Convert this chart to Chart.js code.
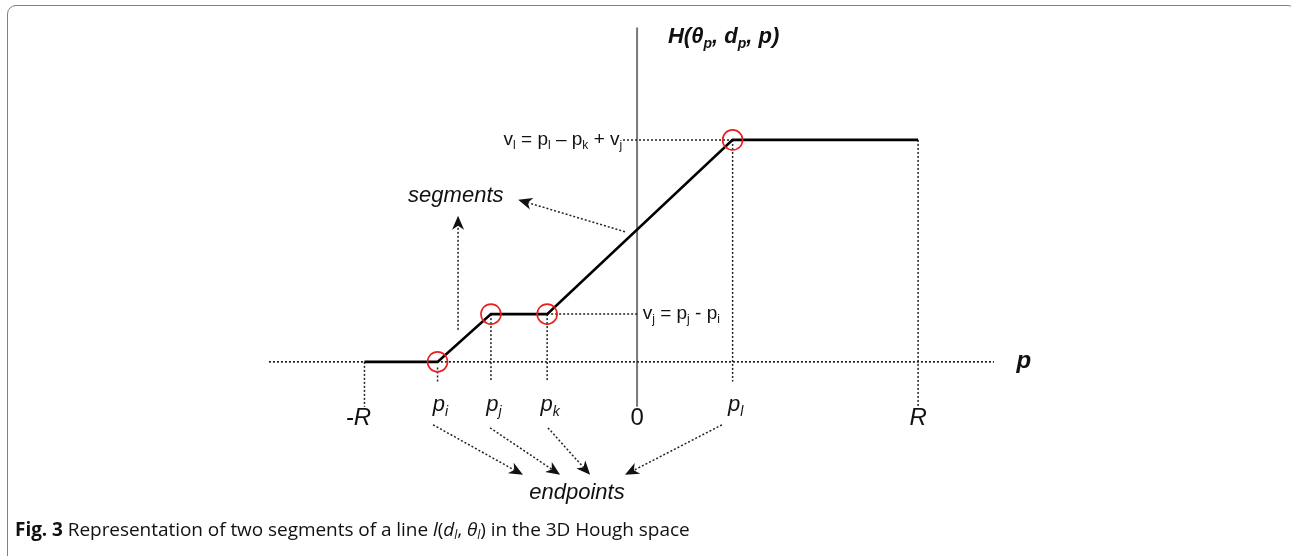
<!DOCTYPE html>
<html>
<head>
<meta charset="utf-8">
<script src="https://cdn.jsdelivr.net/npm/chart.js@4.4.1/dist/chart.umd.min.js"></script>
<style>
    html, body { margin: 0; padding: 0; background: #fff; overflow: hidden; }
    #frame {
        position: absolute; left: 7px; top: 5px; width: 1290px; height: 700px;
        border: 1.5px solid #808080; border-radius: 9px; box-sizing: border-box;
    }
    #wrap { position: absolute; left: 0; top: 0; width: 1291px; height: 556px; }
    #caption {
        position: absolute; left: 15px; top: 516px; font-family: "Open Sans", sans-serif;
        font-size: 19px; line-height: 26px; color: #111; white-space: nowrap; letter-spacing: -0.05px;
    }
    #caption b { font-weight: 700; }
    #caption sub { font-size: 12px; vertical-align: -3px; line-height: 0; }
</style>
</head>
<body>
<div id="frame"></div>
<div id="wrap"><canvas id="hough" width="1291" height="556"></canvas></div>
<div id="caption"><b>Fig. 3</b> Representation of two segments of a line <i>l</i>(<i>d<sub>l</sub></i>, <i>θ<sub>l</sub></i>) in the 3D Hough space</div>

<script>
    "use strict";

    // profile of H along p (arbitrary units, 0 at the vertical axis)
    var pointNames = ["-R", "p_i", "p_j", "p_k", "p_l", "R"];
    var pValues = [-97, -71, -52, -32, 34, 100];
    var hValues = [0, 0, 17, 17, 79, 79];
    var circled = [false, true, true, true, true, false];

    // tick labels under the p axis
    var tickLabels = ["-R", "p_i", "p_j", "p_k", "0", "p_l", "R"];
    var tickValues = [-97, -71, -52, -32, 0, 34, 100];

    var points = pValues.map(function (p, i) { return { x: p, y: hValues[i] }; });

    // split "p_i" into parts for subscript drawing
    function parts(label) {
        var s = label.split("_");
        return s.length > 1 ? [{ t: s[0] }, { t: s[1], sub: true }] : [{ t: label }];
    }

    function drawRich(ctx, list, x, y, align, size, style) {
        var subSize = Math.round(size * 0.62);
        var w = 0;
        list.forEach(function (p) {
            ctx.font = style + " " + (p.sub ? subSize : size) + "px 'Liberation Sans', Arial, sans-serif";
            p.w = ctx.measureText(p.t).width;
            w += p.w;
        });
        var cx = align === "center" ? x - w / 2 : (align === "right" ? x - w : x);
        ctx.textAlign = "left";
        ctx.textBaseline = "middle";
        list.forEach(function (p) {
            ctx.font = style + " " + (p.sub ? subSize : size) + "px 'Liberation Sans', Arial, sans-serif";
            ctx.fillText(p.t, cx, p.sub ? y + size * 0.32 : y);
            cx += p.w;
        });
    }

    var houghPlugin = {
        id: "hough",
        beforeDatasetsDraw: function (chart) {
            var ctx = chart.ctx, xs = chart.scales.x, ys = chart.scales.y;
            var X = function (v) { return xs.getPixelForValue(v); };
            var Y = function (v) { return ys.getPixelForValue(v); };

            ctx.save();
            // vertical H axis
            ctx.strokeStyle = "#777";
            ctx.lineWidth = 2;
            ctx.beginPath();
            ctx.moveTo(X(0), Y(119));
            ctx.lineTo(X(0), Y(-16));
            ctx.stroke();

            // dotted p axis
            ctx.strokeStyle = "#222";
            ctx.setLineDash([2, 2]);
            ctx.lineWidth = 1.7;
            ctx.beginPath();
            ctx.moveTo(X(-131), Y(0));
            ctx.lineTo(X(127), Y(0));
            ctx.stroke();

            // dotted drops from the profile to the tick labels
            ctx.lineWidth = 1.5;
            pValues.forEach(function (p, i) {
                var bottom = (i === 0 || i === pValues.length - 1) ? -16 : -7;
                ctx.beginPath();
                ctx.moveTo(X(p), Y(i === 1 ? -2 : hValues[i]));
                ctx.lineTo(X(p), Y(bottom));
                ctx.stroke();
            });

            // level guides v_j and v_l
            ctx.beginPath();
            ctx.moveTo(X(pValues[3]), Y(hValues[3]));
            ctx.lineTo(X(0), Y(hValues[3]));
            ctx.moveTo(X(-5), Y(hValues[4]));
            ctx.lineTo(X(pValues[4]), Y(hValues[4]));
            ctx.stroke();
            ctx.restore();
        },
        afterDatasetsDraw: function (chart) {
            var ctx = chart.ctx, xs = chart.scales.x, ys = chart.scales.y;
            var X = function (v) { return xs.getPixelForValue(v); };
            var Y = function (v) { return ys.getPixelForValue(v); };

            function arrow(u1, v1, u2, v2) {
                var x1 = X(u1), y1 = Y(v1), x2 = X(u2), y2 = Y(v2);
                var a = Math.atan2(y2 - y1, x2 - x1);
                var c = Math.cos(a), s = Math.sin(a);
                ctx.save();
                ctx.strokeStyle = "#222";
                ctx.fillStyle = "#111";
                ctx.lineWidth = 1.5;
                ctx.setLineDash([2, 2]);
                ctx.beginPath();
                ctx.moveTo(x1, y1);
                ctx.lineTo(x2 - 10 * c, y2 - 10 * s);
                ctx.stroke();
                ctx.setLineDash([]);
                ctx.beginPath();
                ctx.moveTo(x2, y2);
                ctx.lineTo(x2 - 14 * c + 6 * s, y2 - 14 * s - 6 * c);
                ctx.lineTo(x2 - 10 * c, y2 - 10 * s);
                ctx.lineTo(x2 - 14 * c - 6 * s, y2 - 14 * s + 6 * c);
                ctx.closePath();
                ctx.fill();
                ctx.restore();
            }

            ctx.save();
            ctx.fillStyle = "#111";

            // tick labels
            tickLabels.forEach(function (lab, i) {
                var isP = lab.indexOf("_") > 0;
                if (isP) {
                    drawRich(ctx, parts(lab), X(tickValues[i]) + 3, Y(-15.3), "center", 22, "italic");
                } else if (lab === "-R") {
                    drawRich(ctx, [{ t: lab }], X(tickValues[i]) - 6, Y(-20), "center", 24, "italic");
                } else {
                    drawRich(ctx, [{ t: lab }], X(tickValues[i]), Y(-20), "center", 24, lab === "0" ? "normal" : "italic");
                }
            });

            // axis titles
            drawRich(ctx, [{ t: "p" }], X(135), Y(0), "left", 24, "italic bold");
            drawRich(ctx, [{ t: "H(θ" }, { t: "p", sub: true }, { t: ", d" }, { t: "p", sub: true }, { t: ", p)" }],
                X(11), Y(115.5), "left", 22, "italic bold");

            // level formulas
            drawRich(ctx, [{ t: "v" }, { t: "l", sub: true }, { t: " = p" }, { t: "l", sub: true },
                { t: " – p" }, { t: "k", sub: true }, { t: " + v" }, { t: "j", sub: true }],
                X(-5.3), Y(hValues[4]), "right", 19, "normal");
            drawRich(ctx, [{ t: "v" }, { t: "j", sub: true }, { t: " = p" }, { t: "j", sub: true },
                { t: " - p" }, { t: "i", sub: true }],
                X(2), Y(hValues[3]), "left", 19, "normal");

            // segments callout
            drawRich(ctx, [{ t: "segments" }], X(-64.5), Y(59), "center", 22, "italic");
            arrow(-63.7, 11.4, -63.7, 52);
            arrow(-4.3, 46.3, -42.3, 57.7);

            // endpoints callout
            drawRich(ctx, [{ t: "endpoints" }], X(-21.4), Y(-46.6), "center", 22, "italic");
            arrow(-72.6, -22.4, -40.6, -40.2);
            arrow(-52.3, -23.5, -27.4, -40.2);
            arrow(-31.7, -23.5, -16.7, -40.2);
            arrow(30.2, -22.4, -4.3, -40.2);
            ctx.restore();
        }
    };

    var ctx = document.getElementById("hough").getContext("2d");
    var houghChart = new Chart(ctx, {
        type: "scatter",
        data: {
            datasets: [{
                label: "H",
                data: points,
                showLine: true,
                borderColor: "#000",
                borderWidth: 2.6,
                pointRadius: circled.map(function (c) { return c ? 10 : 0; }),
                pointBorderColor: "#e8201e",
                pointBackgroundColor: "rgba(0,0,0,0)",
                pointBorderWidth: 1.6,
                clip: false
            }]
        },
        options: {
            responsive: false,
            animation: false,
            devicePixelRatio: 1,
            layout: { padding: 0 },
            plugins: { legend: { display: false }, tooltip: { enabled: false } },
            scales: {
                x: { type: "linear", display: false, min: -226.7, max: 232.7 },
                y: { type: "linear", display: false, min: -69.1, max: 128.8 }
            }
        },
        plugins: [houghPlugin]
    });
</script>
</body>
</html>
